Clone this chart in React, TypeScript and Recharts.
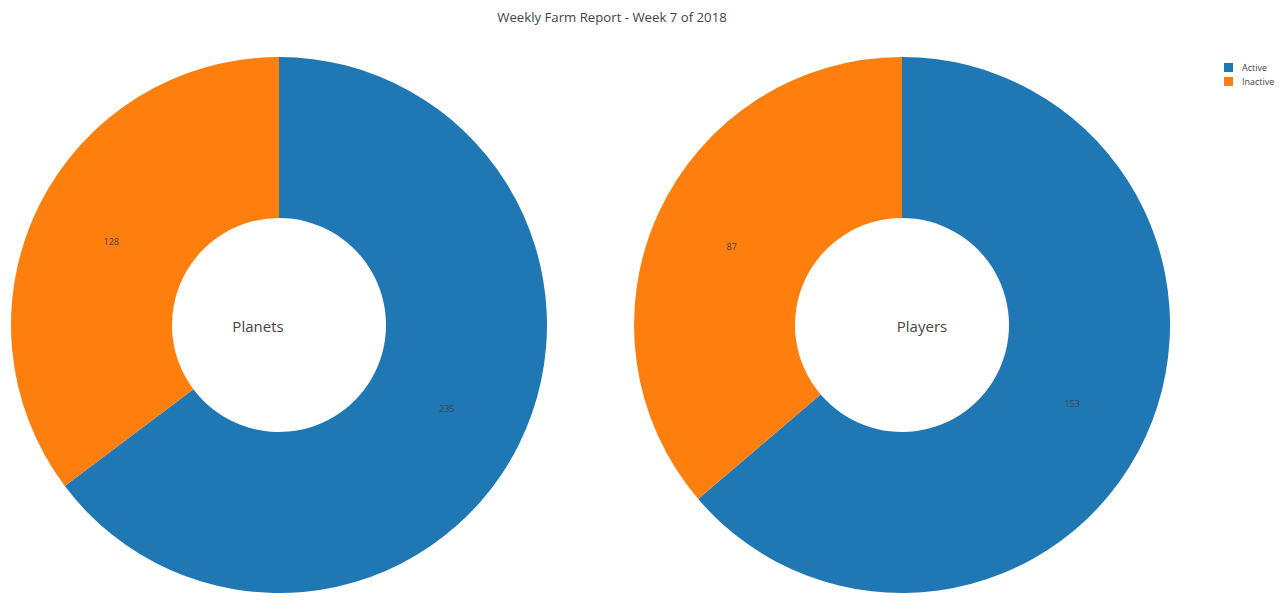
import React from 'react';
import { PieChart, Pie, Cell, Legend } from 'recharts';

// Datos del reporte semanal
const categories = ['Active', 'Inactive'];
const planetValues = [235, 128];
const playerValues = [153, 87];
const pieTitles = ['Planets', 'Players'];

const COLORS = ['#1f77b4', '#ff7f0e'];
const FONT = '"Open Sans", verdana, arial, sans-serif';
const RADIAN = Math.PI / 180;

const planetData = categories.map((name, i) => ({ name, value: planetValues[i] }));
const playerData = categories.map((name, i) => ({ name, value: playerValues[i] }));

// etiqueta del valor en el centro del anillo
const renderValue = (props: any) => {
  const { cx, cy, midAngle, innerRadius, outerRadius, value } = props;
  const r = (innerRadius + outerRadius) / 2;
  const x = cx + r * Math.cos(-midAngle * RADIAN);
  const y = cy + r * Math.sin(-midAngle * RADIAN);
  return (
    <text x={x} y={y} textAnchor="middle" dominantBaseline="central" fontSize={9} fill="#444" fontFamily={FONT}>
      {value}
    </text>
  );
};

const LegendBox = () => (
  <div style={{ fontFamily: FONT, fontSize: 9, color: '#444' }}>
    {categories.map((c, i) => (
      <div key={c} style={{ display: 'flex', alignItems: 'center', height: 14 }}>
        <span style={{ width: 9, height: 9, background: COLORS[i], display: 'inline-block', marginRight: 9 }} />
        <span>{c}</span>
      </div>
    ))}
  </div>
);

const App: React.FC = () => {
  return (
    <div style={{ position: 'fixed', left: 0, top: 0, width: 1280, height: 611, background: '#fff' }}>
      <PieChart width={1280} height={611} margin={{ top: 0, right: 0, bottom: 0, left: 0 }}>
        <text x={612} y={17} textAnchor="middle" dominantBaseline="central" fontSize={13.2} fill="#444" fontFamily={FONT}>
          Weekly Farm Report - Week 7 of 2018
        </text>
        <Pie
          data={planetData}
          dataKey="value"
          nameKey="name"
          cx={279}
          cy={325}
          innerRadius={107}
          outerRadius={268}
          startAngle={90}
          endAngle={-270}
          stroke="none"
          label={renderValue}
          labelLine={false}
          isAnimationActive={false}
        >
          {planetData.map((_e, i) => (
            <Cell key={`p-${i}`} fill={COLORS[i]} />
          ))}
        </Pie>
        <Pie
          data={playerData}
          dataKey="value"
          nameKey="name"
          cx={902}
          cy={325}
          innerRadius={107}
          outerRadius={268}
          startAngle={90}
          endAngle={-270}
          stroke="none"
          label={renderValue}
          labelLine={false}
          isAnimationActive={false}
        >
          {playerData.map((_e, i) => (
            <Cell key={`q-${i}`} fill={COLORS[i]} />
          ))}
        </Pie>
        <text x={258} y={326} textAnchor="middle" dominantBaseline="central" fontSize={15} fill="#444" fontFamily={FONT}>
          {pieTitles[0]}
        </text>
        <text x={922} y={326} textAnchor="middle" dominantBaseline="central" fontSize={15} fill="#444" fontFamily={FONT}>
          {pieTitles[1]}
        </text>
        <Legend
          layout="vertical"
          align="right"
          verticalAlign="top"
          content={<LegendBox />}
          wrapperStyle={{ top: 60, left: 1224, width: 56, right: 'auto' }}
        />
      </PieChart>
    </div>
  );
};

export default App;
